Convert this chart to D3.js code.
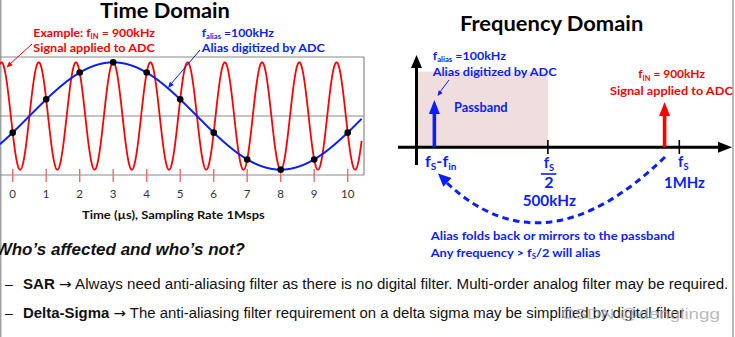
<!DOCTYPE html>
<html><head><meta charset="utf-8">
<script src="https://cdn.jsdelivr.net/npm/d3@7"></script>
<style>body{margin:0;background:#fff}svg{display:block}</style>
</head><body>
<svg id="c" width="735" height="337"></svg>
<script>
// ---------- data ----------
const sampleTimes = [0, 1, 2, 3, 4, 5, 6, 7, 8, 9, 10];          // µs
const sampleValues = [-0.31, 0.31, 0.81, 1.0, 0.81, 0.31, -0.31, -0.81, -1.0, -0.81, -0.31];
const timeTicks = [0, 1, 2, 3, 4, 5, 6, 7, 8, 9, 10];
const inputFreqMHz = 0.9;     // f_IN = 900 kHz
const aliasFreqMHz = 0.1;     // f_alias = 100 kHz
const aliasPeakUs = 3;        // alias peak position
const timeSpan = [-0.38, 10.42];

const passbandKHz = [0, 500];
const freqTicksKHz = [500, 1000];
const freqArrowKeys = ["alias", "input"];
const freqArrowKHz = [68, 944];   // drawn positions (schematic)

const RED = "#ff0000", BLUE = "#0a1eff", GRAY = "#8a8a8a";
const CAL = "Lato, 'Open Sans', sans-serif";
const ARI = "'Liberation Sans', Arial, sans-serif";
const DJV = "'DejaVu Sans', sans-serif";

const svg = d3.select("#c");

// ---------- helpers ----------
function label(parent, o) {
  const g = parent.append("g").attr("transform", `translate(${o.x},${o.y})`);
  const t = g.append("text")
    .attr("font-family", o.family || CAL)
    .attr("font-size", o.size)
    .attr("font-weight", o.weight || "bold")
    .attr("font-style", o.italic ? "italic" : null)
    .attr("fill", o.fill || "#000");
  const parts = typeof o.text === "string" ? [[o.text]] : o.text;
  let sub = false;
  parts.forEach(p => {
    const ts = t.append("tspan").text(p[0]);
    if (p[1] === "sub") { ts.attr("font-size", o.size * 0.62).attr("dy", o.size * 0.2); sub = true; }
    else if (sub) { ts.attr("dy", -o.size * 0.2); sub = false; }
    if (p[2]) ts.attr("font-weight", p[2]);
    if (p[3]) ts.attr("font-family", p[3]);
  });
  const w = t.node().getComputedTextLength();
  const s = o.width ? o.width / w : 1;
  const ax = o.anchor === "middle" ? -w * s / 2 : o.anchor === "end" ? -w * s : 0;
  t.attr("transform", `translate(${ax},0) scale(${s},1)`);
  return t;
}
function head(x1, y1, x2, y2, len, hw) {
  const dx = x2 - x1, dy = y2 - y1, L = Math.hypot(dx, dy);
  const ux = dx / L, uy = dy / L, px = -uy, py = ux;
  const bx = x2 - ux * len, by = y2 - uy * len;
  return `M${x2},${y2}L${bx + px * hw},${by + py * hw}L${bx - px * hw},${by - py * hw}Z`;
}

// ---------- frame ----------
svg.append("line").attr("x1", 0.8).attr("x2", 0.8).attr("y1", 0).attr("y2", 337).attr("stroke", GRAY).attr("stroke-width", 1.2);
svg.append("line").attr("x1", 733).attr("x2", 733).attr("y1", 0).attr("y2", 337).attr("stroke", GRAY).attr("stroke-width", 1.2);

// ---------- time domain ----------
const x = d3.scaleLinear().domain([0, 10]).range([12.7, 347.7]);
const y = d3.scaleLinear().domain([-1.1, 1.1]).range([175, 57]);
const boxRight = 364;
const td = svg.append("g");

[1.1, 0, -1.1].forEach(v => td.append("line").attr("x1", 0).attr("x2", boxRight)
  .attr("y1", y(v)).attr("y2", y(v)).attr("stroke", GRAY).attr("stroke-width", 1.2));
td.append("line").attr("x1", boxRight).attr("x2", boxRight).attr("y1", y(1.1)).attr("y2", y(-1.1))
  .attr("stroke", GRAY).attr("stroke-width", 1.2);

td.selectAll(".tk").data(timeTicks).join("line").attr("class", "tk")
  .attr("x1", d => x(d)).attr("x2", d => x(d)).attr("y1", 169).attr("y2", 182)
  .attr("stroke", "#f06a6a").attr("stroke-width", 1.4);
td.selectAll(".tl").data(timeTicks).join("text").attr("class", "tl")
  .attr("x", d => x(d)).attr("y", 198).attr("text-anchor", "middle")
  .attr("font-family", CAL).attr("font-size", 11.5).attr("fill", "#333").text(d => d);

const ts = d3.range(timeSpan[0], timeSpan[1], 0.005);
const inputWave = t => Math.cos(2 * Math.PI * inputFreqMHz * t + 2 * Math.PI * aliasFreqMHz * aliasPeakUs);
const aliasWave = t => Math.cos(2 * Math.PI * aliasFreqMHz * (t - aliasPeakUs));
const line = d3.line().x(d => x(d[0])).y(d => y(d[1]));
td.append("path").attr("d", line(ts.map(t => [t, inputWave(t)]))).attr("fill", "none")
  .attr("stroke", RED).attr("stroke-width", 1.8);
td.append("path").attr("d", line(ts.map(t => [t, aliasWave(t)]))).attr("fill", "none")
  .attr("stroke", BLUE).attr("stroke-width", 2);
td.selectAll(".dot").data(sampleTimes).join("circle").attr("class", "dot")
  .attr("cx", d => x(d)).attr("cy", (d, i) => y(sampleValues[i])).attr("r", 3.3).attr("fill", "#000");

label(svg, { x: 165, y: 18, anchor: "middle", size: 20, text: "Time Domain", width: 130 });
label(svg, { x: 33.3, y: 36.7, size: 12, fill: RED, text: [["Example: f"], ["IN", "sub"], [" = 900kHz"]], width: 121.7 });
label(svg, { x: 33.3, y: 52.3, size: 12, fill: RED, text: "Signal applied to ADC", width: 121.7 });
label(svg, { x: 201.7, y: 36.7, size: 12, fill: BLUE, text: [["f"], ["alias", "sub"], [" =100kHz"]], width: 72.3 });
label(svg, { x: 201.7, y: 52.3, size: 12, fill: BLUE, text: "Alias digitized by ADC", width: 123.3 });
label(svg, { x: 82, y: 219, size: 11.5, fill: "#111", text: "Time (µs), Sampling Rate 1Msps", width: 183 });

// annotation arrows
svg.append("line").attr("x1", 32).attr("y1", 44).attr("x2", 10).attr("y2", 64).attr("stroke", RED).attr("stroke-width", 1);
svg.append("path").attr("d", head(32, 44, 6.5, 67.5, 6, 2.6)).attr("fill", RED);
svg.append("line").attr("x1", 200).attr("y1", 50).attr("x2", 171).attr("y2", 84).attr("stroke", BLUE).attr("stroke-width", 1);
svg.append("path").attr("d", head(200, 50, 168, 88, 6, 2.6)).attr("fill", BLUE);

// ---------- frequency domain ----------
const f = d3.scaleLinear().domain([0, 1000]).range([416.5, 679.3]);
const axisY = 147.3;
const fd = svg.append("g");

fd.append("rect").attr("x", f(passbandKHz[0])).attr("width", f(passbandKHz[1]) - f(passbandKHz[0]))
  .attr("y", 71.7).attr("height", axisY - 71.7).attr("fill", "#f0dddd");

// axes
fd.append("line").attr("x1", 398).attr("x2", 720).attr("y1", axisY).attr("y2", axisY).attr("stroke", "#000").attr("stroke-width", 3);
fd.append("path").attr("d", head(398, axisY, 732, axisY, 14, 5.5)).attr("fill", "#000");
fd.append("line").attr("x1", f(0)).attr("x2", f(0)).attr("y1", 165).attr("y2", 66).attr("stroke", "#000").attr("stroke-width", 3);
fd.append("path").attr("d", head(f(0), 165, f(0), 55, 13, 5.5)).attr("fill", "#000");

fd.selectAll(".ft").data(freqTicksKHz).join("line").attr("class", "ft")
  .attr("x1", d => f(d)).attr("x2", d => f(d)).attr("y1", 140).attr("y2", 154)
  .attr("stroke", "#000").attr("stroke-width", 1.6);

// spectral arrows
const arrowColor = { alias: BLUE, input: RED };
const arrowTip = { alias: 100, input: 102 };
freqArrowKeys.forEach((k, i) => {
  const ax = f(freqArrowKHz[i]);
  fd.append("line").attr("x1", ax).attr("x2", ax).attr("y1", axisY).attr("y2", arrowTip[k] + 12)
    .attr("stroke", arrowColor[k]).attr("stroke-width", 3.6);
  fd.append("path").attr("d", head(ax, axisY, ax, arrowTip[k], 14, 5.5)).attr("fill", arrowColor[k]);
});

// small alias pointer
svg.append("line").attr("x1", 449).attr("y1", 80).attr("x2", 440).attr("y2", 92).attr("stroke", BLUE).attr("stroke-width", 1);
svg.append("path").attr("d", head(449, 80, 437.5, 96, 5.5, 2.4)).attr("fill", BLUE);

// fold-back dashed arc
svg.append("path").attr("d", "M665,157 Q544,274 447,183").attr("fill", "none")
  .attr("stroke", BLUE).attr("stroke-width", 3).attr("stroke-dasharray", "6.5,4.5");
svg.append("path").attr("d", head(544, 274, 438, 173.5, 13, 6)).attr("fill", BLUE);

label(svg, { x: 460, y: 31, size: 20, text: "Frequency Domain", width: 183.3 });
label(svg, { x: 432.7, y: 60, size: 12, fill: BLUE, text: [["f"], ["alias", "sub"], [" =100kHz"]], width: 73.3 });
label(svg, { x: 432.7, y: 76, size: 12, fill: BLUE, text: "Alias digitized by ADC", width: 124 });
label(svg, { x: 454, y: 111.7, size: 12.5, fill: BLUE, text: "Passband", width: 53.7 });
label(svg, { x: 638.3, y: 78.3, size: 12, fill: RED, text: [["f"], ["IN", "sub"], [" = 900kHz"]], width: 66.7 });
label(svg, { x: 610, y: 95, size: 12, fill: RED, text: "Signal applied to ADC", width: 123 });

label(svg, { x: 425, y: 166.7, size: 15, fill: BLUE, text: [["f"], ["S", "sub"], ["-f"], ["in", "sub"]], width: 31.5 });
label(svg, { x: f(500) + 1, y: 168, size: 15, fill: BLUE, anchor: "middle", text: [["f"], ["S", "sub"]] });
svg.append("line").attr("x1", f(500) - 7).attr("x2", f(500) + 8.5).attr("y1", 174).attr("y2", 174)
  .attr("stroke", BLUE).attr("stroke-width", 1.6);
label(svg, { x: f(500) + 1, y: 188.3, size: 16, fill: BLUE, anchor: "middle", text: "2" });
label(svg, { x: 522.7, y: 206, size: 16, fill: BLUE, text: "500kHz", width: 53.3 });
label(svg, { x: 678, y: 167, size: 15, fill: BLUE, text: [["f"], ["S", "sub"]] });
label(svg, { x: 664, y: 188.3, size: 16, fill: BLUE, text: "1MHz", width: 41 });

label(svg, { x: 430.7, y: 240, size: 12, fill: BLUE, text: "Alias folds back or mirrors to the passband", width: 244.3 });
label(svg, { x: 430.7, y: 256.7, size: 12, fill: BLUE, text: [["Any frequency > f"], ["S", "sub"], ["/2 will alias"]], width: 170 });

// ---------- bottom text ----------
label(svg, { x: 245, y: 255, size: 17, family: ARI, italic: true, anchor: "end", fill: "#111",
  text: "Who’s affected and who’s not?" });
label(svg, { x: 5, y: 289, size: 14, family: ARI, weight: "normal", fill: "#111", text: "–" });
label(svg, { x: 23, y: 289, size: 14, family: ARI, fill: "#111", text: [["SAR ", null, "bold"], ["→", null, "normal", DJV], [" Always need anti-aliasing filter as there is no digital filter. Multi-order analog filter may be required.", null, "normal"]], width: 706 });
label(svg, { x: 5, y: 318, size: 14, family: ARI, weight: "normal", fill: "#111", text: "–" });
label(svg, { x: 23, y: 318, size: 14, family: ARI, fill: "#111", text: [["Delta-Sigma ", null, "bold"], ["→", null, "normal", DJV], [" The anti-aliasing filter requirement on a delta sigma may be simplified by digital filter", null, "normal"]], width: 661 });

// watermark
label(svg, { x: 561, y: 319, size: 15, family: ARI, weight: "normal", fill: "#aaaaaa", text: "CSDN @denglingg", width: 159 })
  .attr("opacity", 0.8);
</script>
</body></html>
